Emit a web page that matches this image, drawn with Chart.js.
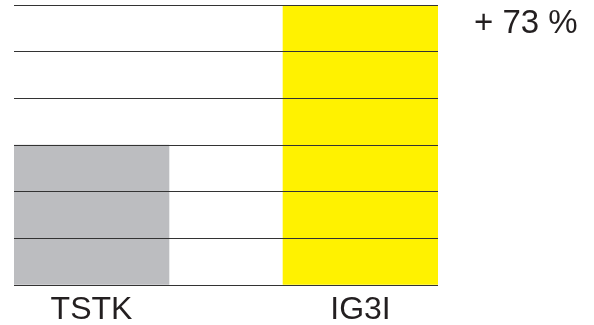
<!DOCTYPE html>
<html>
<head>
<meta charset="utf-8">
<script src="https://cdn.jsdelivr.net/npm/chart.js@4/dist/chart.umd.min.js"></script>
<style>
  html, body { margin: 0; padding: 0; background: #fff; }
  #wrap { width: 594px; height: 325px; position: relative; }
</style>
</head>
<body>
<div id="wrap"><canvas id="growthChart"></canvas></div>
<script>
// Chart data (values in grid units)
const categories = ["TSTK", "IG3I"];
const positions = [0, 1];
const values = [3, 6];
const changeLabel = "+ 73 %";

const barColors = ["#bcbdc0", "#fff200"];
const inkColor = "#231f20";

// "+ 73 %" note at top right
const changeNote = {
  id: "changeNote",
  afterDraw(chart) {
    const c = chart.ctx;
    c.save();
    c.font = "33px 'Liberation Sans', Arial, sans-serif";
    c.fillStyle = inkColor;
    c.textAlign = "left";
    c.textBaseline = "alphabetic";
    c.fillText(changeLabel, 474, 33);
    c.restore();
  },
};

const ctx = document.getElementById("growthChart").getContext("2d");
const growthChart = new Chart(ctx, {
  type: "bar",
  data: {
    datasets: [
      {
        data: positions.map((x, i) => ({ x: x, y: values[i] })),
        backgroundColor: barColors,
        borderWidth: 0,
        barThickness: 155,
      },
    ],
  },
  options: {
    responsive: true,
    maintainAspectRatio: false,
    animation: false,
    layout: { padding: { left: 14, right: 156, top: 5, bottom: 0 } },
    plugins: {
      legend: { display: false },
      tooltip: { enabled: false },
    },
    scales: {
      x: {
        type: "linear",
        offset: false,
        min: -0.288,
        max: 1.288,
        grid: { display: false, drawTicks: false, offset: false },
        border: { display: false },
        afterFit: (scale) => {
          scale.height = 40;
        },
        afterBuildTicks: (scale) => {
          scale.ticks = positions.map((v) => ({ value: v }));
        },
        ticks: {
          padding: 6,
          color: inkColor,
          font: { family: "'Liberation Sans', Arial, sans-serif", size: 32 },
          callback: (value) => categories[positions.indexOf(value)],
        },
      },
      y: {
        min: 0,
        max: 6,
        grid: { color: "#333333", lineWidth: 1, drawTicks: false, z: 1 },
        border: { display: false },
        ticks: { display: false, stepSize: 1 },
      },
    },
  },
  plugins: [changeNote],
});
</script>
</body>
</html>
